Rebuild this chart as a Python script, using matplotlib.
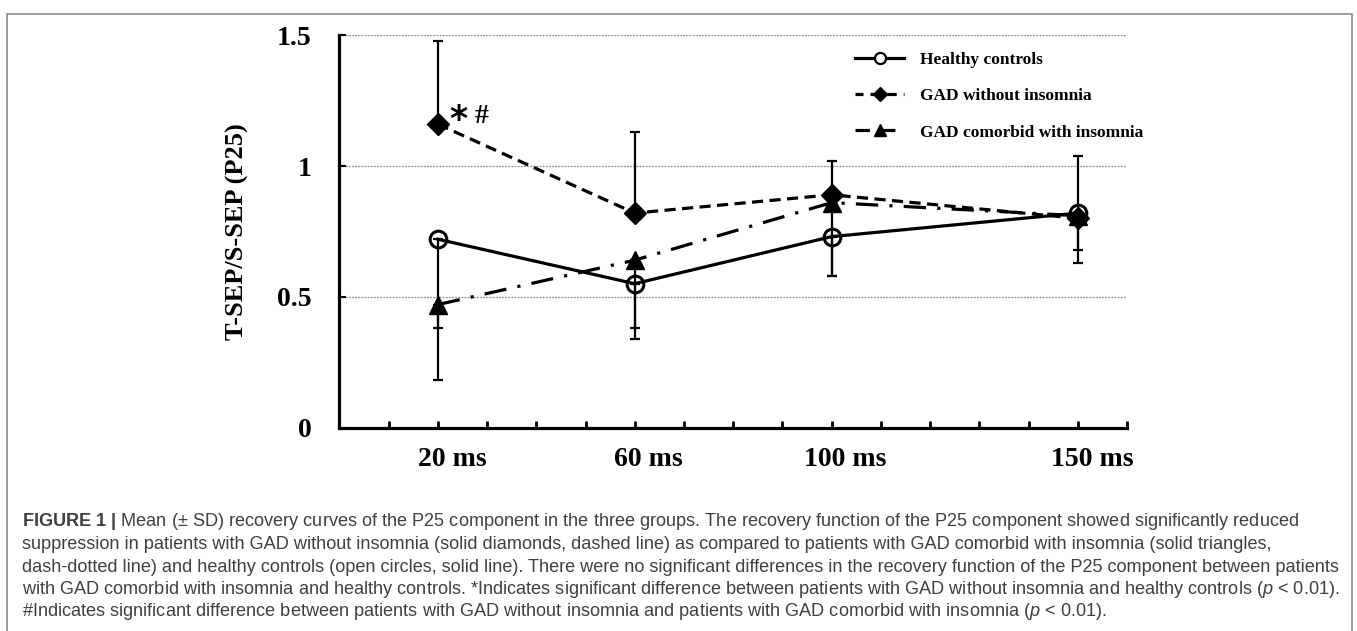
import matplotlib
matplotlib.use("Agg")
import matplotlib.pyplot as plt
import matplotlib.patches as mpatches
import matplotlib.transforms as mtransforms
from matplotlib.lines import Line2D
from matplotlib import font_manager

# ---------------------------------------------------------------------------
# dados
X_MS = [20, 60, 100, 150]
X_LABELS = ["20 ms", "60 ms", "100 ms", "150 ms"]

HEALTHY    = [0.72, 0.55, 0.73, 0.82]
HEALTHY_SD = [0.34, 0.17, 0.15, 0.14]   # barra só para baixo

GAD_NO     = [1.16, 0.82, 0.89, 0.80]
GAD_NO_SD  = [0.32, 0.31, 0.13, 0.24]   # barra só para cima

GAD_INS    = [0.47, 0.64, 0.86, 0.81]
GAD_INS_SD = [0.29, 0.30, 0.28, 0.18]   # barra só para baixo

SERIES_LABELS = ["Healthy controls", "GAD without insomnia", "GAD comorbid with insomnia"]

Y_TICKS = [0, 0.5, 1.0, 1.5]
Y_TICKLABELS = ["0", "0.5", "1", "1.5"]

CAPTION = [
    r"$\mathbf{FIGURE\ 1\ |}$ Mean (± SD) recovery curves of the P25 component in the three groups. "
    "The recovery function of the P25 component showed significantly reduced",
    "suppression in patients with GAD without insomnia (solid diamonds, dashed line) as compared to "
    "patients with GAD comorbid with insomnia (solid triangles,",
    "dash-dotted line) and healthy controls (open circles, solid line). There were no significant "
    "differences in the recovery function of the P25 component between patients",
    "with GAD comorbid with insomnia and healthy controls. *Indicates significant difference between "
    r"patients with GAD without insomnia and healthy controls ($\mathit{p}$ < 0.01).",
    "#Indicates significant difference between patients with GAD without insomnia and patients "
    r"with GAD comorbid with insomnia ($\mathit{p}$ < 0.01).",
]

# ---------------------------------------------------------------------------
SERIF = "Liberation Serif"
names = {f.name for f in font_manager.fontManager.ttflist}
CAP_FONT = "Liberation Sans Narrow" if "Liberation Sans Narrow" in names else "Liberation Sans"

plt.rcParams["mathtext.fontset"] = "custom"
plt.rcParams["mathtext.rm"] = CAP_FONT
plt.rcParams["mathtext.it"] = CAP_FONT + ":italic"
plt.rcParams["mathtext.bf"] = CAP_FONT + ":bold"

C_LINE = "black"
C_GRID = "#8a8a8a"
C_TEXT = "#404040"

LS_DASH = (0, (3.5, 2))
LS_DASHDOT = (0, (7, 3.5, 1, 3.5))

fig = plt.figure(figsize=(13.57, 6.31), dpi=100)
ax = fig.add_axes([0.2501, 0.3225, 0.5804, 0.6216])

# linhas de grade
for y in Y_TICKS[1:]:
    ax.axhline(y, color=C_GRID, linewidth=0.9, linestyle=(0, (1.5, 1)), zorder=0)

err_kw = dict(ecolor=C_LINE, elinewidth=1.6, capsize=3.5, capthick=1.6, zorder=2)

ax.errorbar(X_MS, HEALTHY, yerr=[HEALTHY_SD, [0] * len(X_MS)], fmt="none", **err_kw)
ax.errorbar(X_MS, GAD_INS, yerr=[GAD_INS_SD, [0] * len(X_MS)], fmt="none", **err_kw)
ax.errorbar(X_MS, GAD_NO, yerr=[[0] * len(X_MS), GAD_NO_SD], fmt="none", **err_kw)

ax.plot(X_MS, HEALTHY, color=C_LINE, linewidth=2.3, linestyle="-",
        marker="o", markersize=12, markerfacecolor="none", markeredgewidth=2.2, zorder=4)
ax.plot(X_MS, GAD_NO, color=C_LINE, linewidth=2.3, linestyle=LS_DASH,
        marker="D", markersize=11, markerfacecolor=C_LINE, zorder=3)
ax.plot(X_MS, GAD_INS, color=C_LINE, linewidth=2.3, linestyle=LS_DASHDOT,
        marker="^", markersize=13, markerfacecolor=C_LINE, zorder=3)

# marcas de significância
ax.text(22.3, 1.175, "*", fontsize=25, fontweight="bold", family="DejaVu Sans",
        ha="left", va="center")
ax.text(27.4, 1.19, "#", fontsize=20, fontweight="bold", family=SERIF,
        ha="left", va="center")

ax.set_xlim(0, 160)
ax.set_ylim(0, 1.5)
ax.set_xticks(range(0, 161, 10))
ax.set_xticklabels([X_LABELS[X_MS.index(t)] if t in X_MS else "" for t in range(0, 161, 10)],
                   fontsize=20, fontweight="bold", family=SERIF)
ax.set_yticks(Y_TICKS)
ax.set_yticklabels(Y_TICKLABELS, fontsize=20, fontweight="bold", family=SERIF)
ax.tick_params(axis="x", direction="in", length=5, width=2, pad=14)
ax.tick_params(axis="y", direction="in", length=5, width=1.5, pad=20)

# rótulos do eixo x ficam um pouco à direita das marcas
shift = mtransforms.ScaledTranslation(14 / 100, 0, fig.dpi_scale_trans)
for lbl in ax.get_xticklabels():
    lbl.set_transform(lbl.get_transform() + shift)

for side in ("top", "right"):
    ax.spines[side].set_visible(False)
for side in ("left", "bottom"):
    ax.spines[side].set_linewidth(2.3)

ax.set_ylabel("T-SEP/S-SEP (P25)", fontsize=19, fontweight="bold", family=SERIF, labelpad=20)

# legenda com alças desenhadas à parte (padrões como no original)
handles = [
    Line2D([], [], color=C_LINE, linewidth=2.3, linestyle="-", marker="o",
           markersize=8, markerfacecolor="white", markeredgewidth=1.6),
    Line2D([], [], color=C_LINE, linewidth=2.3, linestyle=(0.5, (3, 2.2)), marker="D",
           markersize=7, markerfacecolor=C_LINE),
    Line2D([], [], color=C_LINE, linewidth=2.3, linestyle=(0, (4.5, 3.5)), marker="^",
           markersize=9, markerfacecolor=C_LINE),
]
ax.legend(handles, SERIES_LABELS, loc="upper left", bbox_to_anchor=(0.655, 0.957),
          frameon=False, prop=dict(family=SERIF, weight="bold", size=12.5),
          handlelength=2.8, handletextpad=0.95, labelspacing=1.15,
          borderpad=0, borderaxespad=0, numpoints=1)

# moldura externa
frame = mpatches.Rectangle((7 / 1357, -0.05), 1345 / 1357, 1.05 - 14 / 631,
                           transform=fig.transFigure, fill=False,
                           edgecolor="#8c8c8c", linewidth=1.2)
fig.patches.append(frame)

# legenda da figura (texto)
renderer = fig.canvas.get_renderer()
y_lines = [522, 544.5, 567, 589, 611]
for i, (line, yp) in enumerate(zip(CAPTION, y_lines)):
    t = fig.text(22 / 1357, 1 - yp / 631, line, fontsize=12, family=CAP_FONT,
                 color=C_TEXT, ha="left", va="center")
    if i == 0:
        # ajusta o tamanho para a primeira linha ocupar a mesma largura
        w = t.get_window_extent(renderer).width
        cap_size = 12 * 1277 / w
    t.set_fontsize(cap_size)

fig.savefig("out.png", dpi=100)
plt.close(fig)
